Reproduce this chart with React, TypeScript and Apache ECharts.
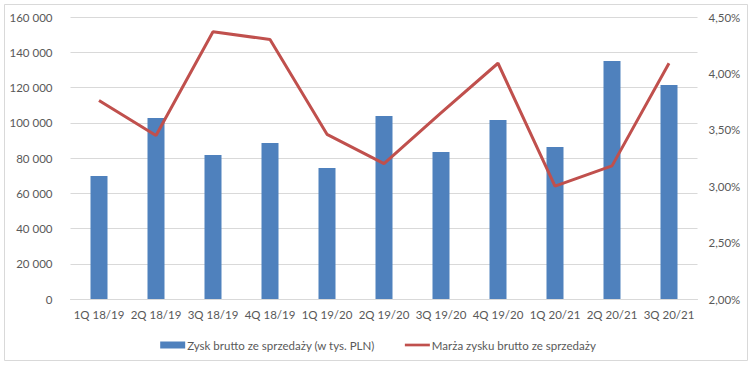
import React, { useEffect, useRef } from "react";
import * as echarts from "echarts";

const categories = ["1Q 18/19", "2Q 18/19", "3Q 18/19", "4Q 18/19", "1Q 19/20", "2Q 19/20", "3Q 19/20", "4Q 19/20", "1Q 20/21", "2Q 20/21", "3Q 20/21"];
const grossProfit = [69800, 102700, 81700, 88500, 74300, 103800, 83400, 101600, 86200, 135000, 121400];
const grossMargin = [3.76, 3.45, 4.37, 4.30, 3.46, 3.20, 3.65, 4.09, 3.00, 3.18, 4.09];
const barName = "Zysk brutto ze sprzedaży (w tys. PLN)";
const lineName = "Marża zysku brutto ze sprzedaży";

const FONT = "Lato";
const TXT = "#595959";

export default function App() {
  const ref = useRef<HTMLDivElement>(null);
  useEffect(() => {
    const chart = echarts.init(ref.current!, null, { renderer: "svg" });
    chart.setOption({
      animation: false,
      backgroundColor: "#ffffff",
      textStyle: { fontFamily: FONT, color: TXT },
      graphic: [
        {
          type: "rect",
          shape: { x: 4.5, y: 4.5, width: 743, height: 356 },
          style: { fill: "none", stroke: "#d9d9d9", lineWidth: 1 },
          silent: true,
        },
      ],
      grid: { left: 70.5, right: 58.5, top: 17, bottom: 66 },
      legend: {
        left: "center",
        top: 334,
        itemWidth: 25,
        itemHeight: 7,
        itemGap: 30,
        textStyle: { fontFamily: FONT, fontSize: 11.5, color: TXT, padding: [0, 0, 0, -3] },
        data: [
          { name: barName, icon: "rect" },
          { name: lineName, icon: "path://M0,0M28,7M0,2H28V5H0Z", itemStyle: { color: "#c0504d" } },
        ],
      },
      xAxis: {
        type: "category",
        data: categories,
        axisLine: { lineStyle: { color: "#d9d9d9" } },
        axisTick: { show: false },
        axisLabel: { color: TXT, fontFamily: FONT, fontSize: 11.5, margin: 9, interval: 0 },
      },
      yAxis: [
        {
          type: "value",
          min: 0,
          max: 160000,
          interval: 20000,
          axisLine: { show: false },
          axisTick: { show: false },
          splitLine: { lineStyle: { color: "#d9d9d9" } },
          axisLabel: {
            color: TXT,
            fontFamily: FONT,
            fontSize: 11.5,
            margin: 18,
            formatter: (v: number) => String(v).replace(/\B(?=(\d{3})+(?!\d))/g, " "),
          },
        },
        {
          type: "value",
          min: 2,
          max: 4.5,
          interval: 0.5,
          axisLine: { show: false },
          axisTick: { show: false },
          splitLine: { show: false },
          axisLabel: {
            color: TXT,
            fontFamily: FONT,
            fontSize: 11.5,
            margin: 11,
            formatter: (v: number) => v.toFixed(2).replace(".", ",") + "%",
          },
        },
      ],
      series: [
        {
          name: barName,
          type: "bar",
          data: grossProfit,
          barWidth: 17,
          itemStyle: { color: "#4f81bd" },
        },
        {
          name: lineName,
          type: "line",
          yAxisIndex: 1,
          data: grossMargin,
          symbol: "none",
          lineStyle: { color: "#c0504d", width: 3 },
          itemStyle: { color: "#c0504d" },
        },
      ],
    });
    return () => chart.dispose();
  }, []);
  return <div ref={ref} style={{ position: "fixed", left: 0, top: 0, width: 756, height: 365 }} />;
}
